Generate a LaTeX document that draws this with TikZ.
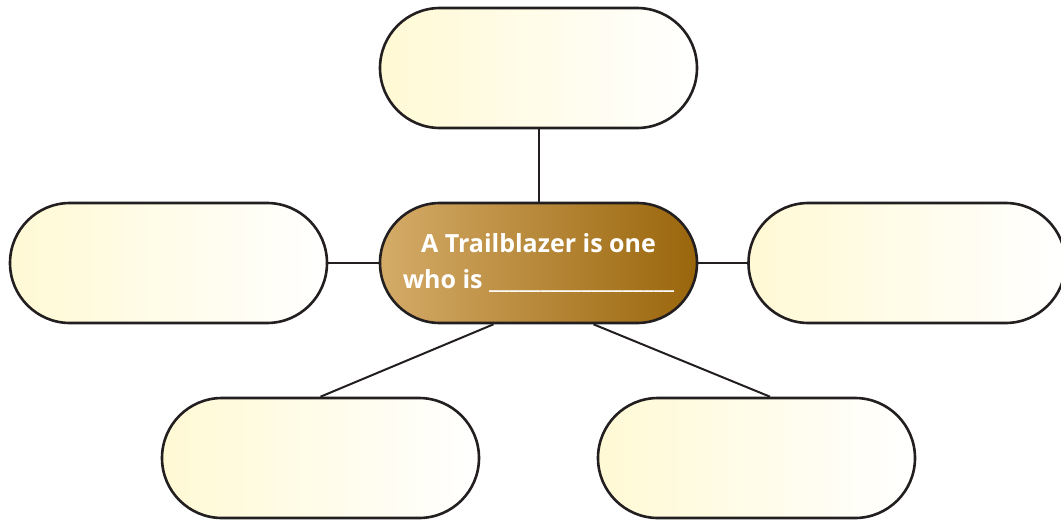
\documentclass[tikz,border=0pt]{standalone}
\usepackage{fontspec}
\setmainfont{Open Sans}
\usetikzlibrary{shapes.misc,calc}
\definecolor{pale}{HTML}{FFF9D4}
\definecolor{goldL}{HTML}{D4AB68}
\definecolor{goldR}{HTML}{9A660C}
\definecolor{edge}{HTML}{231F20}
\tikzset{
  pill/.style={rounded rectangle, draw=edge, line width=2.6pt,
    minimum width=317pt, minimum height=120pt, inner sep=0pt},
  blank/.style={pill, left color=pale, right color=white},
  hub/.style={pill, left color=goldL, right color=goldR, text=white,
    font=\bfseries\fontsize{25}{36}\selectfont, align=center},
  link/.style={draw=edge, line width=2pt}
}
\begin{document}
\begin{tikzpicture}[x=1pt,y=-1pt]
\useasboundingbox (0,0) rectangle (1061,520);
\node[blank] (top) at (538.5,68) {};
\node[blank] (left) at (168.5,263) {};
\node[blank] (right) at (907,263) {};
\node[blank] (bl) at (320.5,458) {};
\node[blank] (br) at (756.5,458) {};
\node[hub] (hub) at (538.5,263) {A Trailblazer is one\\who is \_\_\_\_\_\_\_\_\_\_\_\_\_\_\_\_\_\_};
% spokes from the hub to each blank box
\coordinate (hubsw) at ($(hub.south)+(-45,0)$);
\coordinate (hubse) at ($(hub.south)+(55,0)$);
\coordinate (brtop) at ($(br.north)+(13.5,0)$);
\draw[link] (top.south) -- (hub.north);
\draw[link] (left.east) -- (hub.west);
\draw[link] (hub.east) -- (right.west);
\draw[link] (hubsw) -- (bl.north);
\draw[link] (hubse) -- (brtop);
\end{tikzpicture}
\end{document}
